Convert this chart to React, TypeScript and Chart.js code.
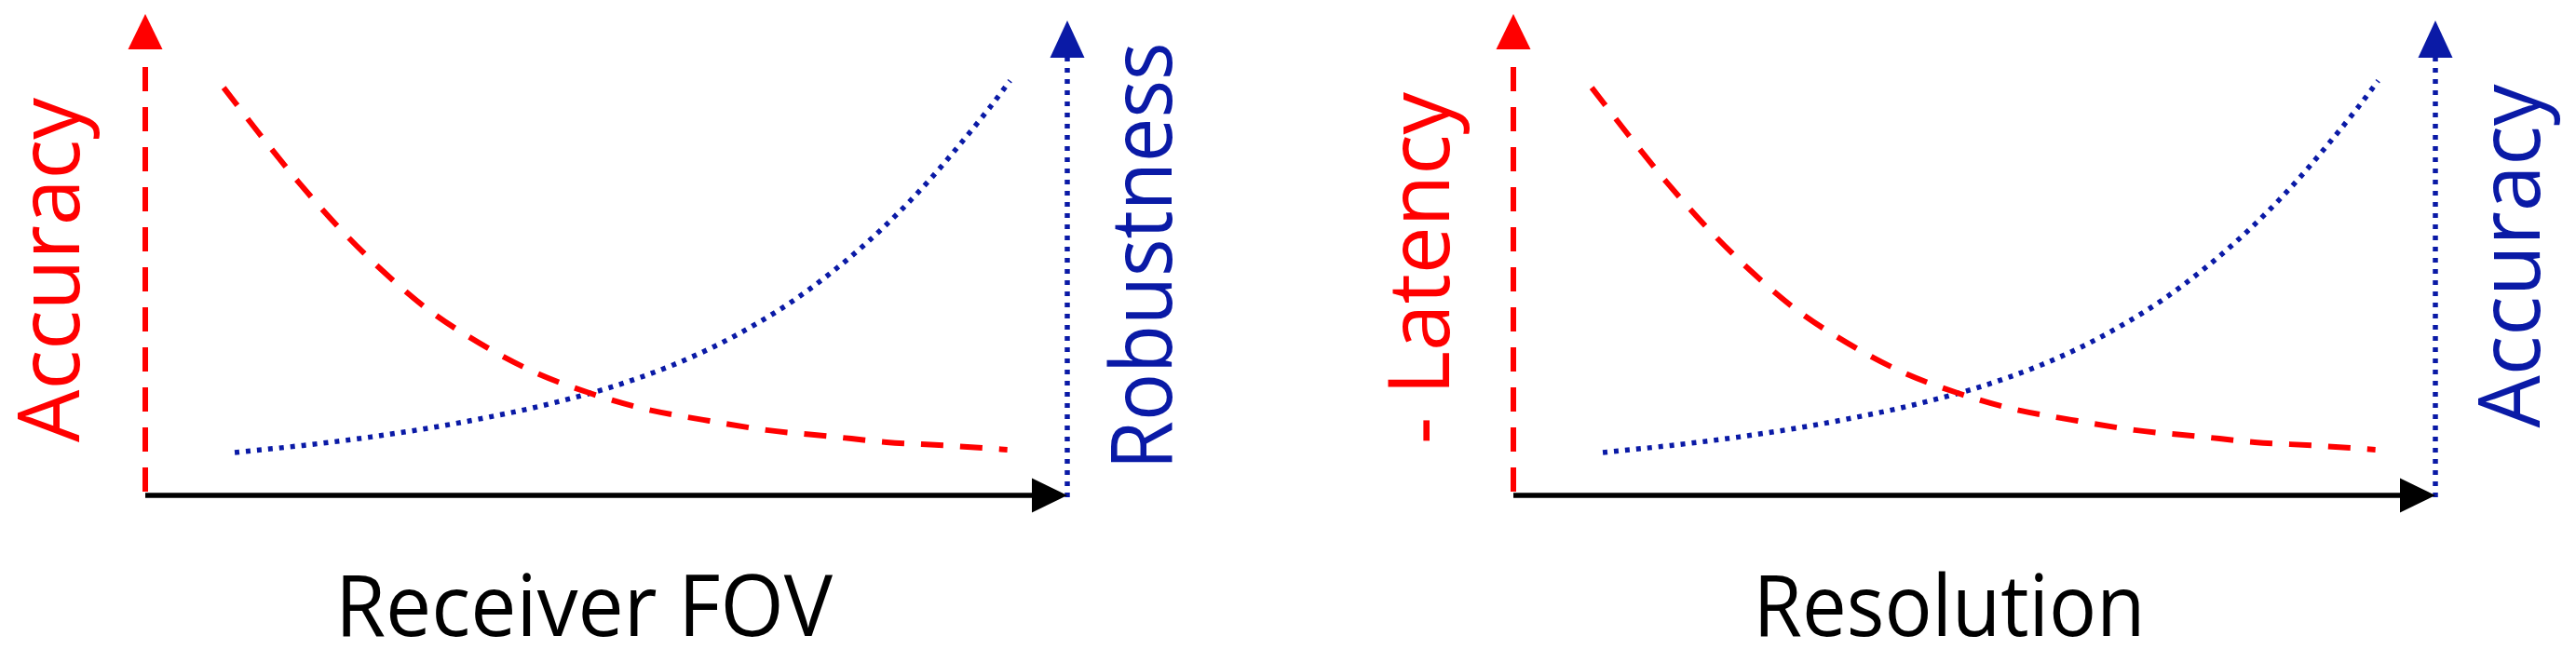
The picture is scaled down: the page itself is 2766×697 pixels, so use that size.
import React, { useEffect, useRef } from "react";
import { Chart, registerables } from "chart.js";

Chart.register(...registerables);

// Decreasing (red, dashed) curve: x in % of axis length, y in % of axis height
const dashedX = [8.5, 12.5, 16.6, 21.1, 25.7, 30.7, 36.1, 42.0, 48.1, 54.0, 60.5, 67.4, 74.5, 80.4, 86.7, 93.5];
const dashedY = [87.4, 77.2, 67.2, 57.2, 48.2, 39.8, 32.8, 26.6, 22.0, 18.6, 16.2, 14.0, 12.6, 11.4, 10.7, 9.8];

// Increasing (blue, dotted) curve
const dottedX = [9.7, 17.1, 24.4, 31.9, 36.8, 41.7, 46.6, 50.2, 53.7, 57.3, 61.8, 66.3, 70.4, 74.3, 78.0, 81.7, 85.1, 88.3, 91.5, 93.8];
const dottedY = [9.2, 10.7, 12.5, 14.8, 16.6, 18.6, 21.0, 23.0, 25.3, 28.0, 32.0, 36.8, 41.9, 47.6, 53.7, 60.6, 67.7, 75.1, 82.9, 88.9];

// Axis titles per panel
const xTitles = ["Receiver FOV", "Resolution"];
const leftTitles = ["Accuracy", "- Latency"];
const rightTitles = ["Robustness", "Accuracy"];

const RED = "#FF0000";
const BLUE = "#0A1AA6";
const BLACK = "#000000";
const FONT = "92px 'Open Sans', sans-serif";

const PANEL_W = 1383;
const PANEL_H = 697;

const panelLayout = [
  {
    left: 0,
    padding: { left: 156, right: 237, top: 31, bottom: 165 },
    xTitleShift: -24,
    xTitleWidth: 534,
    leftGap: 71,
    leftY: 290,
    leftWidth: 370,
    rightGap: 112,
    rightY: 275,
    rightWidth: 459,
  },
  {
    left: 1383,
    padding: { left: 242, right: 151, top: 31, bottom: 165 },
    xTitleShift: -27,
    xTitleWidth: 421,
    leftGap: 69,
    leftY: 288,
    leftWidth: 378,
    rightGap: 112,
    rightY: 275,
    rightWidth: 369,
  },
];

const arrowAxesPlugin = {
  id: "arrowAxes",
  beforeDatasetsDraw(chart: any) {
    const { ctx, chartArea } = chart;
    const { left, right, top, bottom } = chartArea;
    ctx.save();
    // Left axis: red dashed with arrowhead
    ctx.lineWidth = 6;
    ctx.lineCap = "butt";
    ctx.strokeStyle = RED;
    ctx.setLineDash([26, 17]);
    ctx.beginPath();
    ctx.moveTo(left, top + 41);
    ctx.lineTo(left, bottom + 1);
    ctx.stroke();
    ctx.setLineDash([]);
    ctx.fillStyle = RED;
    ctx.beginPath();
    ctx.moveTo(left, top - 16);
    ctx.lineTo(left - 18.5, top + 22);
    ctx.lineTo(left + 18.5, top + 22);
    ctx.closePath();
    ctx.fill();

    // Right axis: blue dotted with arrowhead
    ctx.strokeStyle = BLUE;
    ctx.lineWidth = 5.5;
    ctx.setLineDash([5, 7]);
    ctx.beginPath();
    ctx.moveTo(right, bottom + 2);
    ctx.lineTo(right, top + 31);
    ctx.stroke();
    ctx.setLineDash([]);
    ctx.fillStyle = BLUE;
    ctx.beginPath();
    ctx.moveTo(right, top - 9);
    ctx.lineTo(right - 18.5, top + 31);
    ctx.lineTo(right + 18.5, top + 31);
    ctx.closePath();
    ctx.fill();

    // Bottom axis: black solid arrow
    ctx.strokeStyle = BLACK;
    ctx.lineWidth = 5.5;
    ctx.beginPath();
    ctx.moveTo(left, bottom);
    ctx.lineTo(right - 36, bottom);
    ctx.stroke();
    ctx.fillStyle = BLACK;
    ctx.beginPath();
    ctx.moveTo(right, bottom);
    ctx.lineTo(right - 38, bottom - 18.5);
    ctx.lineTo(right - 38, bottom + 18.5);
    ctx.closePath();
    ctx.fill();
    ctx.restore();
  },
  afterDraw(chart: any, _args: any, opts: any) {
    const { ctx, chartArea } = chart;
    const { left, right, bottom } = chartArea;
    const i = opts.panel;
    const L = panelLayout[i];
    ctx.save();
    ctx.font = FONT;
    ctx.textAlign = "center";
    ctx.textBaseline = "alphabetic";

    // X title
    ctx.fillStyle = "#000000";
    ctx.fillText(xTitles[i], (left + right) / 2 + L.xTitleShift, bottom + 151, L.xTitleWidth);

    // Left title (red), reading bottom-to-top
    ctx.save();
    ctx.translate(left - L.leftGap, L.leftY);
    ctx.rotate(-Math.PI / 2);
    ctx.fillStyle = RED;
    ctx.fillText(leftTitles[i], 0, 0, L.leftWidth);
    ctx.restore();

    // Right title (blue), reading bottom-to-top
    ctx.save();
    ctx.translate(right + L.rightGap, L.rightY);
    ctx.rotate(-Math.PI / 2);
    ctx.fillStyle = BLUE;
    ctx.fillText(rightTitles[i], 0, 0, L.rightWidth);
    ctx.restore();

    ctx.restore();
  },
};

function Panel({ index }: { index: number }) {
  const ref = useRef<HTMLCanvasElement>(null);
  const L = panelLayout[index];
  useEffect(() => {
    const canvas = ref.current;
    if (!canvas) return;
    const chart = new Chart(canvas, {
      type: "line",
      data: {
        datasets: [
          {
            label: leftTitles[index],
            data: dashedX.map((x, k) => ({ x, y: dashedY[k] })),
            borderColor: RED,
            borderWidth: 6,
            borderDash: [24, 18],
            pointRadius: 0,
            cubicInterpolationMode: "monotone",
            fill: false,
          },
          {
            label: rightTitles[index],
            data: dottedX.map((x, k) => ({ x, y: dottedY[k] })),
            borderColor: BLUE,
            borderWidth: 5.5,
            borderDash: [5, 7],
            pointRadius: 0,
            cubicInterpolationMode: "monotone",
            fill: false,
          },
        ],
      },
      options: {
        animation: false,
        responsive: false,
        devicePixelRatio: 1,
        events: [],
        layout: { padding: L.padding },
        scales: {
          x: { type: "linear", min: 0, max: 100, display: false },
          y: { type: "linear", min: 0, max: 100, display: false },
        },
        plugins: {
          legend: { display: false },
          tooltip: { enabled: false },
          arrowAxes: { panel: index },
        } as any,
      },
      plugins: [arrowAxesPlugin as any],
    });
    return () => chart.destroy();
  }, [index]);
  return (
    <canvas
      ref={ref}
      width={PANEL_W}
      height={PANEL_H}
      style={{ position: "absolute", left: L.left, top: 0, width: PANEL_W, height: PANEL_H, display: "block" }}
    />
  );
}

export default function App() {
  return (
    <div style={{ position: "absolute", left: 0, top: 0, width: 2766, height: 697, background: "#ffffff" }}>
      <Panel index={0} />
      <Panel index={1} />
    </div>
  );
}
